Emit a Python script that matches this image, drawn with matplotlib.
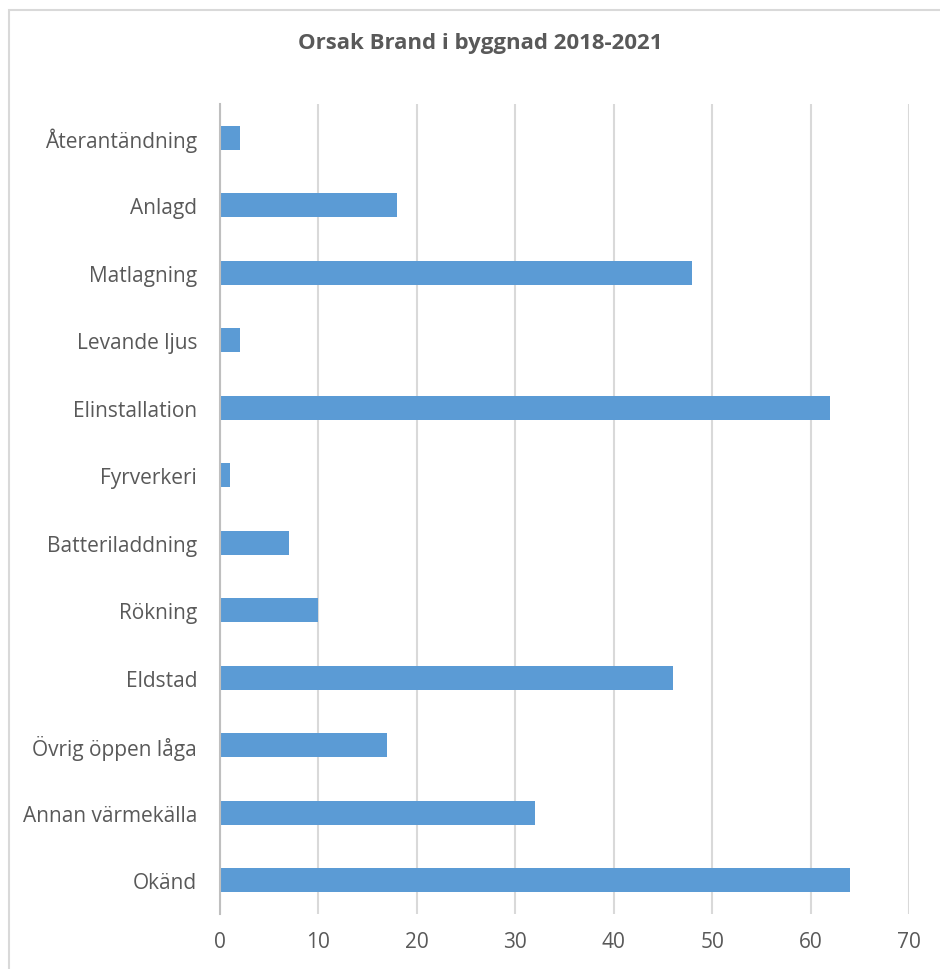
import matplotlib
matplotlib.use("Agg")
import matplotlib.pyplot as plt
from matplotlib.patches import Rectangle

categories = ["Återantändning", "Anlagd", "Matlagning", "Levande ljus", "Elinstallation",
              "Fyrverkeri", "Batteriladdning", "Rökning", "Eldstad", "Övrig öppen låga",
              "Annan värmekälla", "Okänd"]
values = [2, 18, 48, 2, 62, 1, 7, 10, 46, 17, 32, 64]
xticks = [0, 10, 20, 30, 40, 50, 60, 70]
title = "Orsak Brand i byggnad 2018-2021"

plt.rcParams['font.family'] = ['Open Sans', 'DejaVu Sans']
txt = "#595959"

fig = plt.figure(figsize=(9.4, 9.7), dpi=100)
ax = fig.add_axes([220/940, 1-915/970, (909-220)/940, (915-105)/970])

n = len(categories)
ypos = list(range(n))[::-1]
ax.barh(ypos, values, height=0.355, color="#5B9BD5", zorder=3)
ax.set_ylim(-0.5, n-0.5)
ax.set_xlim(0, 70)
ax.set_xticks(xticks)
ax.set_xticklabels([str(t) for t in xticks])
ax.set_yticks(ypos)
ax.set_yticklabels(categories)
ax.tick_params(axis='both', length=0, labelsize=15, colors=txt)
ax.tick_params(axis='y', pad=16.5)
ax.tick_params(axis='x', pad=12)
ax.grid(axis='x', color="#d9d9d9", linewidth=1.5, zorder=0)
for s in ['top', 'right', 'bottom']:
    ax.spines[s].set_visible(False)
ax.spines['left'].set_color("#bfbfbf")
ax.spines['left'].set_linewidth(1.5)
ax.spines['left'].set_zorder(4)

fig.text(480/940, 1-43/970, title, ha='center', va='center', fontsize=16,
         fontweight='bold', color=txt)

fig.patches.append(Rectangle((9/940, -0.1), 1.2, 1.1 - 11/970, transform=fig.transFigure,
                             fill=False, edgecolor="#d9d9d9", linewidth=1.5))
fig.savefig("out.png", dpi=100)
